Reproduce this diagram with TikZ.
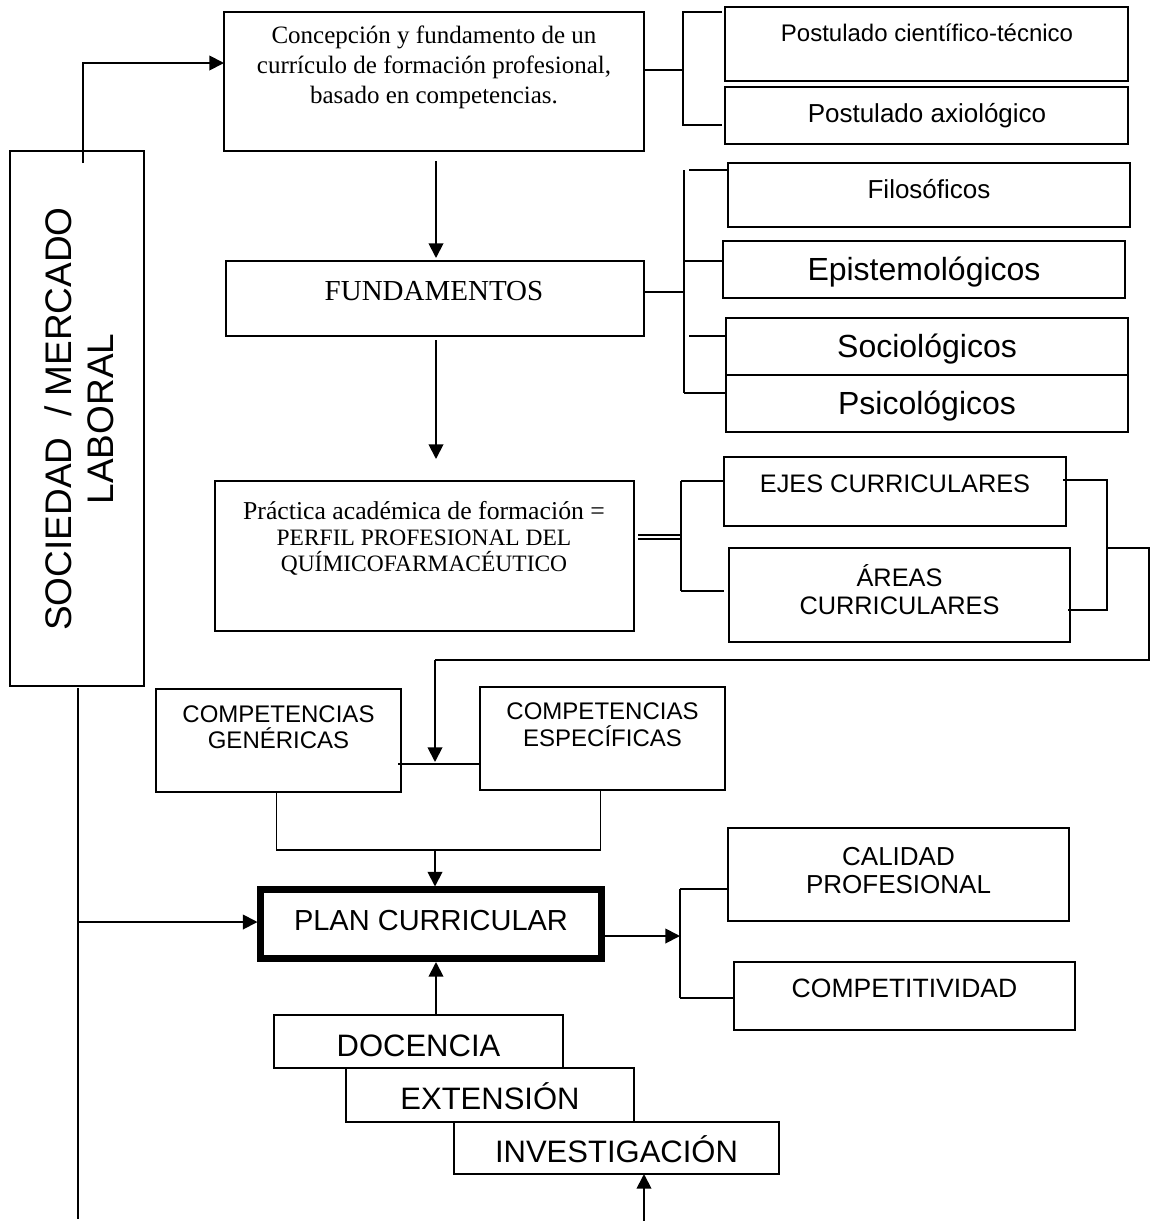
\documentclass[tikz,border=0pt]{standalone}
\usepackage{fontspec}
\setmainfont{Liberation Serif}
\setsansfont{Liberation Sans}
\usetikzlibrary{arrows.meta,fit,calc}
\newcommand\fsz[2]{\fontsize{#1}{#2}\selectfont}
\begin{document}
\begin{tikzpicture}[x=0.75pt,y=-0.75pt,
  line width=1.4pt,
  box/.style={draw, line width=1.3pt, inner sep=0pt, outer sep=0pt},
  thickbox/.style={draw, line width=5.25pt, inner sep=0pt, outer sep=0pt},
  txt/.style={inner sep=0pt, outer sep=0pt, align=center, anchor=base},
  arr/.style={-{Triangle[width=11pt,length=11pt]}},
  dbl/.style={double, double distance=1.8pt, line width=1pt}]
\useasboundingbox (0,0) rectangle (1152,1221);

% ---- boxes ----
\node[box, fit={(10,151) (144,686)}] (soc) {};
\node[inner sep=0pt, align=center, rotate=90, font=\sffamily\fsz{27.75}{31.5}] (tsoc) at (79,419) {SOCIEDAD\ \ / MERCADO\\LABORAL};

\node[box, fit={(224,12) (644,151)}] (conc) {};
\node[txt, font=\rmfamily\fsz{18.75}{22}] (tconc) at (434,103) {Concepción y fundamento de un\\currículo de formación profesional,\\[0.5pt]basado en competencias.};

\node[box, fit={(725,7) (1128,81)}] (cien) {};
\node[txt, font=\sffamily\fsz{18}{21}] (tcien) at (927,41) {Postulado científico-técnico};
\node[box, fit={(725,87) (1128,144)}] (axio) {};
\node[txt, font=\sffamily\fsz{19.5}{23}] (taxio) at (927,122) {Postulado axiológico};

\node[box, fit={(226,261) (644,336)}] (fund) {};
\node[txt, font=\rmfamily\fsz{21.75}{26}] (tfund) at (434,300) {FUNDAMENTOS};

\node[box, fit={(728,163) (1130,227)}] (filo) {};
\node[txt, font=\sffamily\fsz{19.5}{23}] (tfilo) at (929,198) {Filosóficos};
\node[box, fit={(723,241) (1125,298)}] (epis) {};
\node[txt, font=\sffamily\fsz{24}{28}] (tepis) at (924,280) {Epistemológicos};
\node[box, fit={(726,318) (1128,375)}] (soci) {};
\node[txt, font=\sffamily\fsz{24}{28}] (tsoci) at (927,357) {Sociológicos};
\node[box, fit={(726,375) (1128,432)}] (psic) {};
\node[txt, font=\sffamily\fsz{24}{28}] (tpsic) at (927,414) {Psicológicos};

\node[box, fit={(215,481) (634,631)}] (prac) {};
\node[txt, font=\rmfamily\fsz{17.6}{19.5}] (tprac) at (424,571) {{\fsz{19.3}{19.5}Práctica académica de formación =}\\PERFIL PROFESIONAL DEL\\QUÍMICOFARMACÉUTICO};

\node[box, fit={(724,457) (1066,526)}] (ejes) {};
\node[txt, font=\sffamily\fsz{19}{21}] (tejes) at (895,492) {EJES CURRICULARES};
\node[box, fit={(729,548) (1070,642)}] (areas) {};
\node[txt, font=\sffamily\fsz{19}{21}] (tareas) at (899.5,614) {ÁREAS\\CURRICULARES};

\node[box, fit={(156,689) (401,792)}] (gen) {};
\node[txt, font=\sffamily\fsz{18}{19.2}] (tgen) at (278.5,748) {COMPETENCIAS\\GENÉRICAS};
\node[box, fit={(480,687) (725,790)}] (esp) {};
\node[txt, font=\sffamily\fsz{18}{20}] (tesp) at (602.5,746) {COMPETENCIAS\\ESPECÍFICAS};

\node[thickbox, fit={(260.5,889.5) (601,958.5)}] (plan) {};
\node[txt, font=\sffamily\fsz{21.75}{25}] (tplan) at (431,930) {PLAN CURRICULAR};

\node[box, fit={(728,828) (1069,921)}] (cal) {};
\node[txt, font=\sffamily\fsz{19.5}{21}] (tcal) at (898.5,893) {CALIDAD\\PROFESIONAL};
\node[box, fit={(734,962) (1075,1030)}] (comp) {};
\node[txt, font=\sffamily\fsz{19.9}{23}] (tcomp) at (904.5,997) {COMPETITIVIDAD};

\node[box, fit={(274,1015) (563,1068)}] (doc) {};
\node[txt, font=\sffamily\fsz{23.25}{27}] (tdoc) at (418.5,1056) {DOCENCIA};
\node[box, fit={(346,1068) (634,1122)}] (ext) {};
\node[txt, font=\sffamily\fsz{23.25}{27}] (text) at (490,1109) {EXTENSIÓN};
\node[box, fit={(454,1122) (779,1174)}] (inv) {};
\node[txt, font=\sffamily\fsz{23.25}{27}] (tinv) at (616.5,1162) {INVESTIGACIÓN};

% ---- coordinates ----
\coordinate (sTop) at (83,63);
\coordinate (sBot) at (78,1219);
\coordinate (sMid) at (78,922);
\coordinate (pb) at (683,70);
\coordinate (pbT) at (683,12);
\coordinate (pbB) at (683,125);
\coordinate (fb) at (684,292);
\coordinate (fbT) at (684,170);
\coordinate (fbE) at (684,261);
\coordinate (fbS) at (684,336);
\coordinate (fbB) at (684,393);
\coordinate (pr) at (681,537);
\coordinate (prT) at (681,481);
\coordinate (prB) at (681,591);
\coordinate (rc1) at (1107,480);
\coordinate (rc2) at (1107,610);
\coordinate (rc3) at (1107,548);
\coordinate (rc4) at (1149,548);
\coordinate (rc5) at (1149,660);
\coordinate (rc6) at (435,660);
\coordinate (hub) at (435,764);
\coordinate (jn) at (435,850);
\coordinate (cb) at (680,936);
\coordinate (cbT) at (680,889);
\coordinate (cbB) at (680,998);
\coordinate (ib) at (644,1221);

% ---- connectors ----
\draw[arr] ($(soc.north)+(6,12)$) |- (conc.west |- sTop);
\draw ($(soc.south)+(1,2)$) -- (sBot);
\draw[arr] (sMid) -- ($(plan.west |- sMid)+(-3,0)$);

\draw (conc.east |- pb) -- (pb);
\draw ($(cien.west |- pbT)+(-3,0)$) -- (pbT) -- (pbB) -- ($(axio.west |- pbB)+(-3,0)$);

\draw[arr] ($(conc.south)+(2,10)$) -- ($(fund.north)+(1,-3)$);
\draw[arr] ($(fund.south)+(1,4)$) -- ($(fund.south |- prac.north)+(1,-22)$);

\draw (fund.east |- fb) -- (fb);
\draw (fbT) -- (fbB);
\draw ($(fbT)+(5,0)$) -- (filo.west |- fbT);
\draw (fbE) -- (epis.west |- fbE);
\draw ($(fbS)+(5,0)$) -- (soci.west |- fbS);
\draw (fbB) -- (psic.west |- fbB);

\draw[dbl] ($(prac.east |- pr)+(4,0)$) -- (pr);
\draw (prT) -- (prB);
\draw (prT) -- (ejes.west |- prT);
\draw (prB) -- ($(areas.west |- prB)+(-5,0)$);

\draw ($(ejes.east |- rc1)+(-3,0)$) -- (rc1) -- (rc2) -- ($(areas.east |- rc2)+(-2,0)$);
\draw (rc3) -- (rc4) -- (rc5) -- (rc6);
\draw[arr] (rc6) -- ($(hub)+(0,-2)$);
\draw ($(gen.east |- hub)+(-3,0)$) -- (esp.west |- hub);

\draw ($(gen.south)+(-2,0)$) |- (jn) -| ($(esp.south)+(-2,0)$);
\draw[arr] (jn) -- ($(jn |- plan.north)+(0,-3)$);

\draw[arr] (plan.east |- cb) -- (cb);
\draw (cbT) -- (cbB);
\draw (cbT) -- (cal.west |- cbT);
\draw (cbB) -- (comp.west |- cbB);

\draw[arr] ($(doc.north)+(17.5,0)$) -- ($(plan.south)+(5.25,3.5)$);
\draw[arr] (ib) -- (ib |- inv.south);
\end{tikzpicture}
\end{document}
